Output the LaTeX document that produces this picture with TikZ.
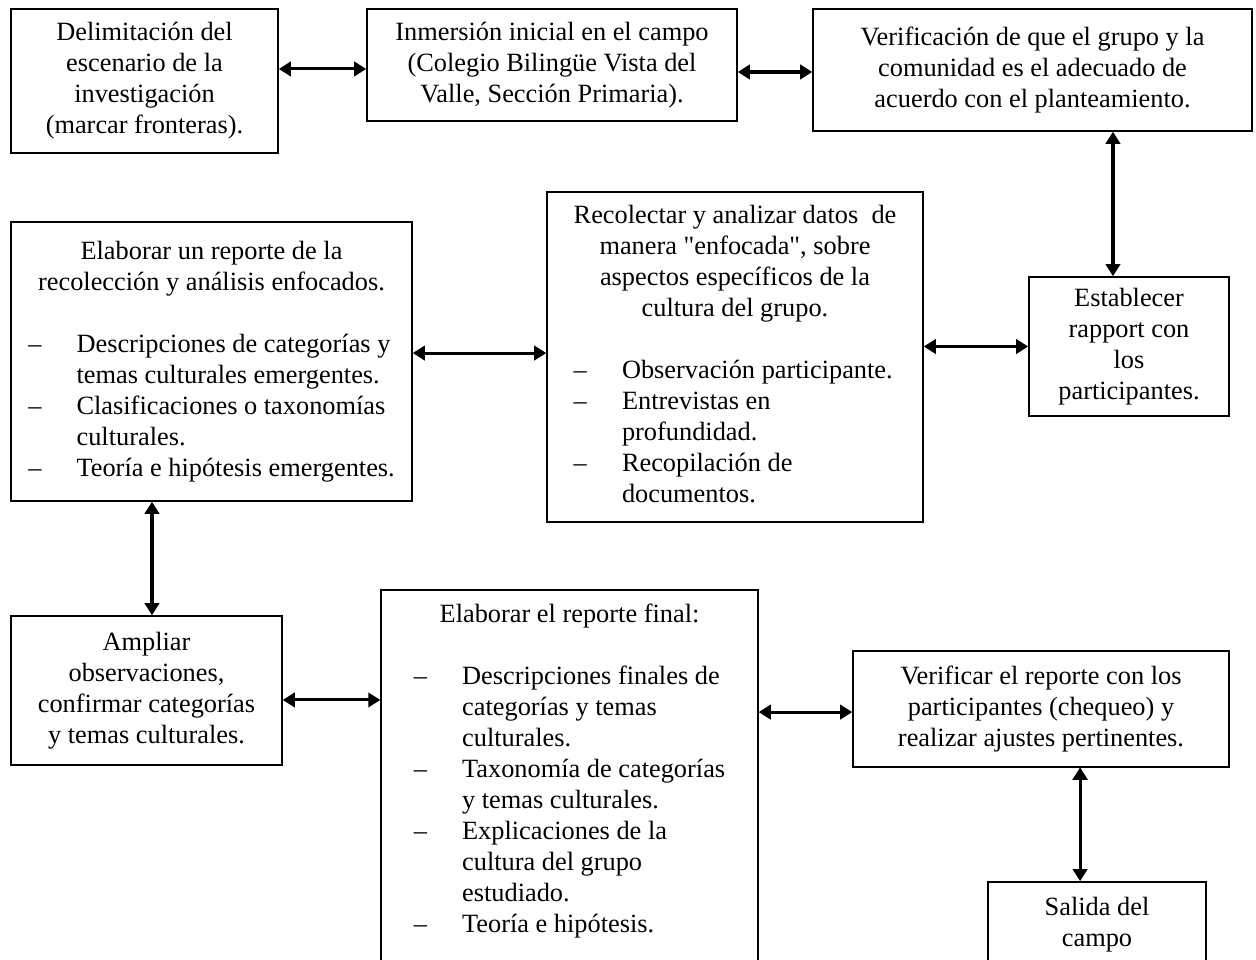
\documentclass[tikz,border=0pt]{standalone}
\usepackage{fontspec}
\setmainfont{Liberation Serif}
\newfontfamily\rectas{Liberation Serif}
\usepackage{array}
\usetikzlibrary{arrows.meta, positioning}

\newcommand{\guion}{--}
\newcommand{\comilla}{{\rectas"}}

\begin{document}
\begin{tikzpicture}[x=0.016cm, y=-0.016cm, font=\fontsize{12}{14.1}\selectfont]
        % Setup the style for the boxes
        \tikzset{box style/.style={draw,
                                   line width=0.7pt,
                                   inner sep=0pt,
                                   align=center},
                 list style/.style={draw,
                                    line width=0.7pt,
                                    inner sep=0pt}}

        \useasboundingbox (0,0) rectangle (1256,959);
        \clip (0,0) rectangle (1256,959);

        % Draw the boxes
        \node[box style, minimum width=121.6pt, minimum height=65.6pt] at (144.5, 81) (delim)
            {Delimitación del\\escenario de la\\investigación\\(marcar fronteras).};
        \node[box style, minimum width=168.5pt, minimum height=51pt] at (552, 65) (inmer)
            {Inmersión inicial en el campo\\(Colegio Bilingüe Vista del\\Valle, Sección Primaria).};
        \node[box style, minimum width=199.9pt, minimum height=55.5pt] at (1032.5, 70) (verif)
            {Verificación de que el grupo y la\\comunidad es el adecuado de\\acuerdo con el planteamiento.};
        \node[box style, minimum width=91.1pt, minimum height=63.3pt] at (1129, 346.5) (estab)
            {Establecer\\rapport con\\los\\participantes.};
        \node[list style, minimum width=171.2pt, minimum height=150.2pt] at (735, 357) (recol)
            {\begin{tabular}{@{}p{22pt}@{}l@{}}
             \multicolumn{2}{@{}c@{}}{Recolectar y analizar datos\ \ de}\\
             \multicolumn{2}{@{}c@{}}{manera \comilla enfocada\comilla, sobre}\\
             \multicolumn{2}{@{}c@{}}{aspectos específicos de la}\\
             \multicolumn{2}{@{}c@{}}{cultura del grupo.}\\[14.1pt]
             \guion & Observación participante.\\
             \guion & Entrevistas en\\
                    & profundidad.\\
             \guion & Recopilación de\\
                    & documentos.
             \end{tabular}};
        \node[list style, minimum width=182.6pt, minimum height=127pt] at (211.5, 361.5) (reporte)
            {\begin{tabular}{@{}p{22pt}@{}l@{}}
             \multicolumn{2}{@{}c@{}}{Elaborar un reporte de la}\\
             \multicolumn{2}{@{}c@{}}{recolección y análisis enfocados.}\\[14.1pt]
             \guion & Descripciones de categorías y\\
                    & temas culturales emergentes.\\
             \guion & Clasificaciones o taxonomías\\
                    & culturales.\\
             \guion & Teoría e hipótesis emergentes.
             \end{tabular}};
        \node[box style, minimum width=123.4pt, minimum height=67.8pt] at (146.5, 690.5) (ampliar)
            {Ampliar\\observaciones,\\confirmar categorías\\y temas culturales.};
        \node[list style, minimum width=171.6pt, minimum height=173pt] at (569.5, 780) (final)
            {\begin{tabular}{@{}p{22pt}@{}l@{}}
             \multicolumn{2}{@{}c@{}}{Elaborar el reporte final:}\\[14.1pt]
             \guion & Descripciones finales de\\
                    & categorías y temas\\
                    & culturales.\\
             \guion & Taxonomía de categorías\\
                    & y temas culturales.\\
             \guion & Explicaciones de la\\
                    & cultura del grupo\\
                    & estudiado.\\
             \guion & Teoría e hipótesis.\\[8pt]
             \end{tabular}};
        \node[box style, minimum width=171.2pt, minimum height=52.8pt] at (1041, 709) (verifr)
            {Verificar el reporte con los\\participantes (chequeo) y\\realizar ajustes pertinentes.};
        \node[box style, minimum width=99.3pt, minimum height=39.2pt] at (1097, 925) (salida)
            {Salida del\\campo};

        % Connect the boxes with arrows
        \draw[line width=1.4pt,
              >={Triangle[length=5.5pt,width=6.5pt]},
              <->]
            ([yshift=-1.8pt]delim.east |- inmer.west)    edge ([yshift=-1.8pt]inmer.west)
            ([yshift=-0.9pt]inmer.east |- verif.west)    edge ([yshift=-0.9pt]verif.west)
            ([xshift=-7.3pt]verif.south -| estab.north)  edge ([xshift=-7.3pt]estab.north)
            (recol.east |- estab.west)                   edge (estab.west)
            ([yshift=1.8pt]reporte.east |- recol.west)   edge ([yshift=1.8pt]recol.west)
            ([xshift=2.5pt]reporte.south -| ampliar.north) edge ([xshift=2.5pt]ampliar.north)
            ([yshift=-4.3pt]ampliar.east)                edge ([yshift=-4.3pt]ampliar.east -| final.west)
            ([yshift=-1.4pt]final.east |- verifr.west)   edge ([yshift=-1.4pt]verifr.west)
            ([xshift=-7.7pt]verifr.south -| salida.north) edge ([xshift=-7.7pt]salida.north);
\end{tikzpicture}
\end{document}
